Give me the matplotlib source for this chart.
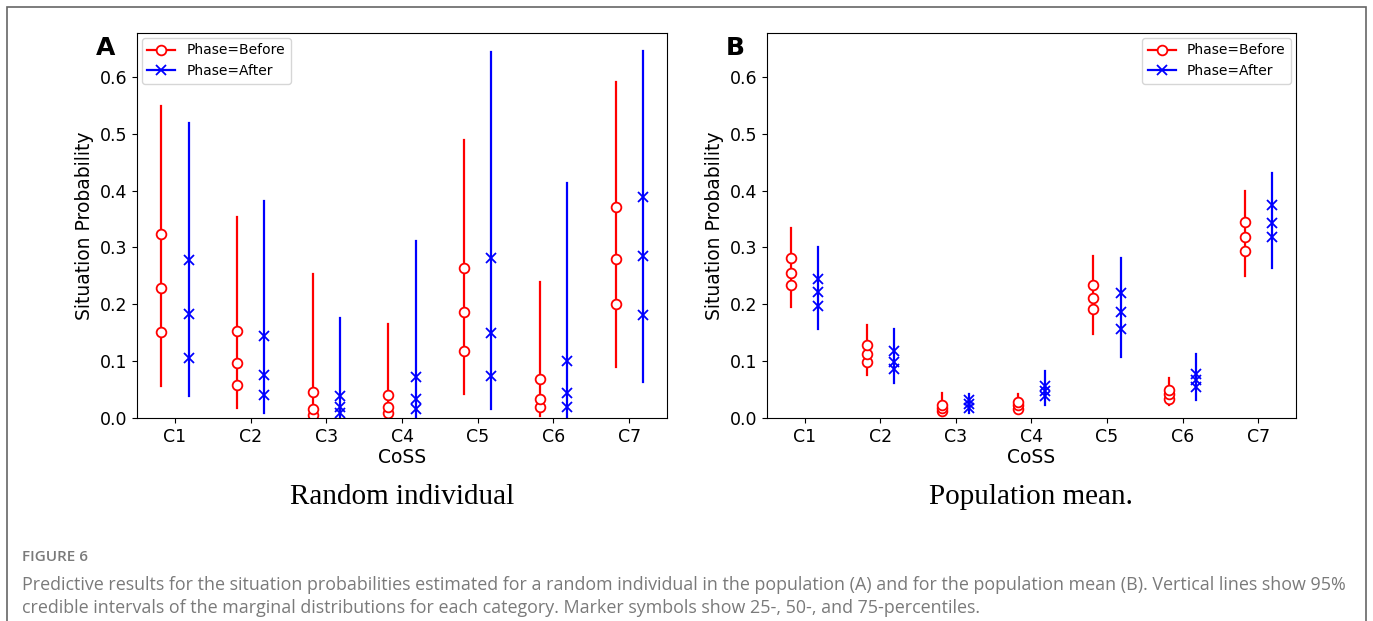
import numpy as np
import matplotlib.pyplot as plt
from matplotlib.lines import Line2D
from matplotlib.patches import Rectangle

plt.rcParams['font.family'] = ['DejaVu Sans']

categories = ['C1', 'C2', 'C3', 'C4', 'C5', 'C6', 'C7']

# Random individual: 95% interval (lo, hi) and 25/50/75 percentiles
rand_before_lo = [0.057, 0.018, 0.000, 0.003, 0.043, 0.003, 0.089]
rand_before_hi = [0.549, 0.353, 0.254, 0.165, 0.488, 0.239, 0.591]
rand_before_q25 = [0.151, 0.058, 0.005, 0.009, 0.118, 0.019, 0.200]
rand_before_q50 = [0.228, 0.097, 0.016, 0.019, 0.186, 0.034, 0.279]
rand_before_q75 = [0.324, 0.153, 0.046, 0.040, 0.263, 0.068, 0.371]

rand_after_lo = [0.038, 0.008, 0.000, 0.000, 0.016, 0.000, 0.064]
rand_after_hi = [0.518, 0.381, 0.175, 0.312, 0.643, 0.413, 0.646]
rand_after_q25 = [0.105, 0.040, 0.009, 0.016, 0.073, 0.019, 0.181]
rand_after_q50 = [0.183, 0.076, 0.019, 0.034, 0.150, 0.044, 0.285]
rand_after_q75 = [0.278, 0.145, 0.038, 0.072, 0.282, 0.101, 0.389]

# Population mean
pop_before_lo = [0.196, 0.076, 0.004, 0.009, 0.148, 0.023, 0.249]
pop_before_hi = [0.334, 0.163, 0.044, 0.042, 0.284, 0.071, 0.400]
pop_before_q25 = [0.233, 0.099, 0.013, 0.016, 0.192, 0.034, 0.294]
pop_before_q50 = [0.255, 0.113, 0.018, 0.022, 0.211, 0.042, 0.318]
pop_before_q75 = [0.281, 0.129, 0.023, 0.029, 0.234, 0.050, 0.344]

pop_after_lo = [0.157, 0.061, 0.009, 0.023, 0.107, 0.032, 0.263]
pop_after_hi = [0.300, 0.156, 0.042, 0.083, 0.282, 0.113, 0.430]
pop_after_q25 = [0.197, 0.086, 0.018, 0.038, 0.157, 0.054, 0.318]
pop_after_q50 = [0.221, 0.098, 0.024, 0.047, 0.187, 0.066, 0.342]
pop_after_q75 = [0.245, 0.117, 0.031, 0.057, 0.220, 0.077, 0.374]


def draw_phase(ax, xs, lo, hi, q25, q50, q75, color, marker):
    for x, a, b, p, m, q in zip(xs, lo, hi, q25, q50, q75):
        ax.plot([x, x], [a, b], color=color, lw=1.6)
        ax.plot([x, x, x], [p, m, q], color=color, ls='none', marker=marker,
                ms=7, mfc='white' if marker == 'o' else color, mec=color, mew=1.3)


def draw_panel(ax, before, after, legend_loc, letter):
    x = np.arange(len(categories))
    draw_phase(ax, x - 0.18, *before, 'red', 'o')
    draw_phase(ax, x + 0.18, *after, 'blue', 'x')
    ax.set_xlim(-0.5, 6.5)
    ax.set_ylim(0, 0.677)
    ax.set_xticks(x)
    ax.set_xticklabels(categories)
    ax.set_yticks([0.0, 0.1, 0.2, 0.3, 0.4, 0.5, 0.6])
    ax.tick_params(labelsize=12.5)
    ax.set_xlabel('CoSS', fontsize=13.5, labelpad=2)
    ax.set_ylabel('Situation Probability', fontsize=13.5)
    handles = [
        Line2D([], [], color='red', lw=1.6, marker='o', ms=7, mfc='white', mew=1.3),
        Line2D([], [], color='blue', lw=1.6, marker='x', ms=7, mew=1.3),
    ]
    ax.legend(handles, ['Phase=Before', 'Phase=After'], loc=legend_loc,
              fontsize=10, handlelength=2.0, borderaxespad=0.35)
    ax.text(-0.06, 0.96, letter, transform=ax.transAxes, fontsize=18,
            fontweight='bold', ha='center', va='center')


fig = plt.figure(figsize=(13.73, 6.21), dpi=100)
axA = fig.add_axes([0.0998, 0.3269, 0.386, 0.620])
axB = fig.add_axes([0.5586, 0.3269, 0.3853, 0.620])

draw_panel(axA,
           (rand_before_lo, rand_before_hi, rand_before_q25, rand_before_q50, rand_before_q75),
           (rand_after_lo, rand_after_hi, rand_after_q25, rand_after_q50, rand_after_q75),
           'upper left', 'A')
draw_panel(axB,
           (pop_before_lo, pop_before_hi, pop_before_q25, pop_before_q50, pop_before_q75),
           (pop_after_lo, pop_after_hi, pop_after_q25, pop_after_q50, pop_after_q75),
           'upper right', 'B')

# sub captions under each panel
fig.text(0.2928, 1 - 497 / 621, 'Random individual', family='Liberation Serif',
         fontsize=21, ha='center', va='center')
fig.text(0.7512, 1 - 497 / 621, 'Population mean.', family='Liberation Serif',
         fontsize=21, ha='center', va='center')

# outer frame, open at the bottom
fig.patches.append(Rectangle((7 / 1373, -0.1), 1359 / 1373, 1.1 - 7 / 621,
                             transform=fig.transFigure, fill=False,
                             ec='#666666', lw=1.2))

fig.text(22 / 1373, 1 - 557 / 621, 'FIGURE 6', family='Open Sans', fontsize=11,
         color='#7a7a7a', fontweight='semibold', va='center')
fig.text(22 / 1373, 1 - 585 / 621,
         'Predictive results for the situation probabilities estimated for a random individual '
         'in the population (A) and for the population mean (B). Vertical lines show 95%',
         family='Open Sans', fontsize=12.9, color='#7a7a7a', va='center')
fig.text(22 / 1373, 1 - 608 / 621,
         'credible intervals of the marginal distributions for each category. '
         'Marker symbols show 25-, 50-, and 75-percentiles.',
         family='Open Sans', fontsize=12.9, color='#7a7a7a', va='center')

fig.savefig('out.png', dpi=100)
